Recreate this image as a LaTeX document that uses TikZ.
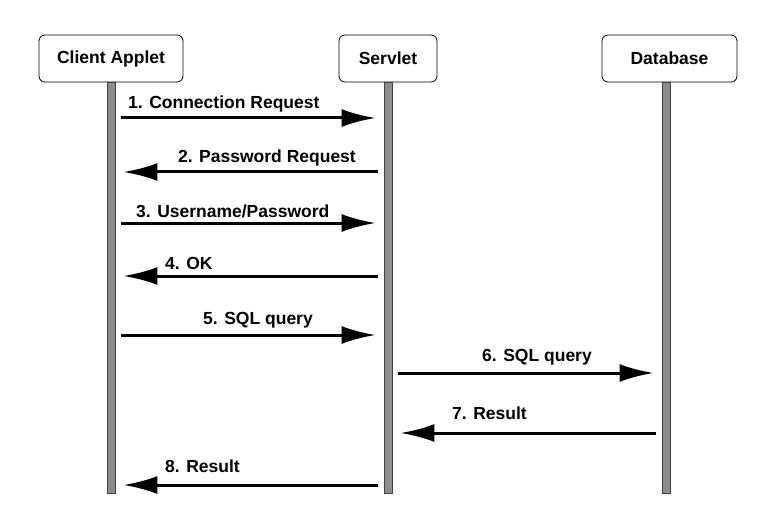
\documentclass[tikz,border=0pt]{standalone}
\usepackage{fontspec}
\setmainfont{Liberation Sans}
\usepackage{tikz}
\usetikzlibrary{positioning, calc, arrows.meta}

\begin{document}
\begin{tikzpicture}[x=1pt, y=-1pt, font=\fontsize{17.5}{20}\selectfont\bfseries]
        % Define styles
        \tikzstyle{actor} = [rectangle, draw, fill=white, line width=0.8pt, rounded corners=6pt, minimum height=47pt, inner sep=0pt]
        \tikzstyle{lifeline} = [rectangle, draw=black!75, fill=black!45, line width=0.9pt, minimum width=8pt, minimum height=411pt, inner sep=0pt, anchor=north]
        \tikzstyle{msg} = [line width=3pt, -{Latex[length=34pt, width=18pt]}, shorten <=6pt, shorten >=8pt]
        \tikzstyle{msglabel} = [anchor=base west, inner sep=0pt]

        \useasboundingbox (0,0) rectangle (758,532);

        % Place actors
        \node [actor, minimum width=144pt] (client) at (111,58.5) {Client Applet};
        \node [actor, minimum width=98pt] (servlet) at (388,58.5) {Servlet};
        \node [actor, minimum width=135pt] (database) at (669.5,58.5) {Database};

        % Place lifelines below the actors
        \node [lifeline] (clientline) at (111,82) {};
        \node [lifeline] (servletline) at (388,82) {};
        \node [lifeline] (databaseline) at (666,82) {};

        % Message heights
        \coordinate (m1) at (0,118);
        \coordinate (m2) at (0,172);
        \coordinate (m3) at (0,223);
        \coordinate (m4) at (0,276);
        \coordinate (m5) at (0,335);
        \coordinate (m6) at (0,373);
        \coordinate (m7) at (0,433);
        \coordinate (m8) at (0,485);

        % Draw messages
        \draw [msg] (clientline.east |- m1) -- (servletline.west |- m1);
        \draw [msg] (servletline.west |- m2) -- (clientline.east |- m2);
        \draw [msg] (clientline.east |- m3) -- (servletline.west |- m3);
        \draw [msg] (servletline.west |- m4) -- (clientline.east |- m4);
        \draw [msg] (clientline.east |- m5) -- (servletline.west |- m5);
        \draw [msg] (servletline.east |- m6) -- (databaseline.west |- m6);
        \draw [msg] (databaseline.west |- m7) -- (servletline.east |- m7);
        \draw [msg] (servletline.west |- m8) -- (clientline.east |- m8);

        % Add text on the arrows
        \node [msglabel] (l1) at (128,109) {1. Connection Request};
        \node [msglabel, anchor=base east] (l2) at (356,163) {2. Password Request};
        \node [msglabel] (l3) at (136,217) {3. Username/Password};
        \node [msglabel] (l4) at (165,269) {4. OK};
        \node [msglabel] (l5) at (203,324) {5. SQL query};
        \node [msglabel] (l6) at (482,361) {6. SQL query};
        \node [msglabel] (l7) at (452,419) {7. Result};
        \node [msglabel] (l8) at (165,472) {8. Result};

    \end{tikzpicture}
\end{document}
